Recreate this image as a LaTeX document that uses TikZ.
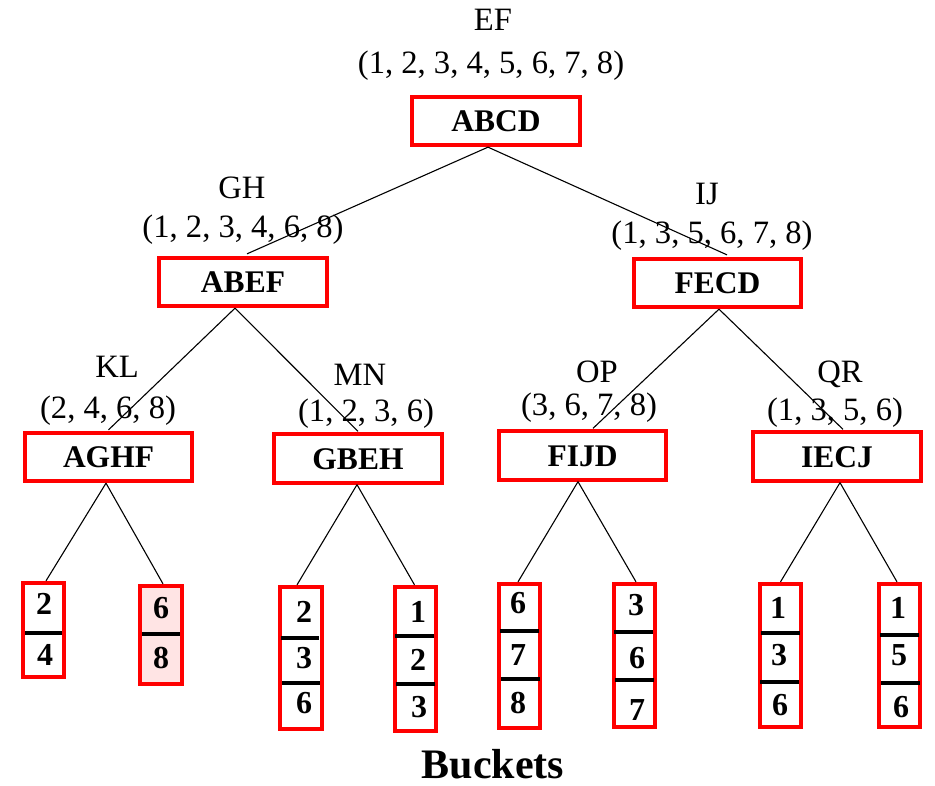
\documentclass[tikz,border=0pt]{standalone}
\usepackage{fontspec}
\setmainfont{Liberation Serif}
\definecolor{bucketpink}{RGB}{255,228,228}
\begin{document}
\begin{tikzpicture}[x=1pt,y=-1pt,
  keybox/.style={draw=red, line width=3.8pt, minimum width=167.5pt, minimum height=48.5pt,
    inner sep=0pt, font=\fontsize{31.5}{36}\selectfont\bfseries, text height=21.4pt, text depth=0pt},
  lbl/.style={inner sep=0pt, font=\fontsize{32.6}{38}\selectfont, text height=21.6pt, text depth=0pt},
  bucket/.style={draw=red, line width=3.8pt, minimum width=41.5pt, inner sep=0pt},
  digit/.style={inner sep=0pt, font=\fontsize{32}{36}\selectfont\bfseries, text height=21.8pt, text depth=0pt},
  sep/.style={line width=3.5pt, black},
  edge/.style={line width=1.1pt, black}]
\useasboundingbox[fill=white] (0,0) rectangle (935,785);

% internal nodes
\node[keybox] (ABCD) at (496,121) {ABCD};
\node[keybox] (ABEF) at (243,282) {ABEF};
\node[keybox] (FECD) at (717.5,283) {FECD};
\node[keybox] (AGHF) at (108.5,457) {AGHF};
\node[keybox] (GBEH) at (358,458.5) {GBEH};
\node[keybox] (FIJD) at (582.5,455.5) {FIJD};
\node[keybox] (IECJ) at (837,456.5) {IECJ};

% buckets
\node[bucket, minimum height=94.5pt] (b1) at (43.5,630) {};
\node[bucket, minimum height=98.5pt, fill=bucketpink] (b2) at (161,635) {};
\node[bucket, minimum height=142.5pt] (b3) at (301,658) {};
\node[bucket, minimum height=144.5pt] (b4) at (415.5,659) {};
\node[bucket, minimum height=144.5pt] (b5) at (519.5,656) {};
\node[bucket, minimum height=143.5pt] (b6) at (634.5,655.5) {};
\node[bucket, minimum height=143.5pt] (b7) at (780.5,655.5) {};
\node[bucket, minimum height=143.5pt] (b8) at (899.5,655.5) {};

% bucket dividers
\draw[sep] (25,633) -- (62,633);
\draw[sep] (142,634) -- (180,634);
\draw[sep] (281,638) -- (319,638);  \draw[sep] (282,683) -- (320,683);
\draw[sep] (395,636) -- (434,636);  \draw[sep] (396,684) -- (435,684);
\draw[sep] (500,631) -- (539,631);  \draw[sep] (501,679) -- (540,679);
\draw[sep] (614,632) -- (653,632);  \draw[sep] (615,680) -- (654,680);
\draw[sep] (761,633) -- (800,633);  \draw[sep] (760,682) -- (799,682);
\draw[sep] (880,635) -- (919,635);  \draw[sep] (881,683) -- (920,683);

% bucket entries
\node[digit] (d11) at (44,604) {2};  \node[digit] (d12) at (45,655) {4};
\node[digit] (d21) at (161,608) {6}; \node[digit] (d22) at (161,658) {8};
\node[digit] (d31) at (304,612) {2}; \node[digit] (d32) at (304,658) {3}; \node[digit] (d33) at (304,703) {6};
\node[digit] (d41) at (418,612) {1}; \node[digit] (d42) at (418,660) {2}; \node[digit] (d43) at (419,707) {3};
\node[digit] (d51) at (518,603) {6}; \node[digit] (d52) at (518,655) {7}; \node[digit] (d53) at (518,703) {8};
\node[digit] (d61) at (636,605) {3}; \node[digit] (d62) at (637,658) {6}; \node[digit] (d63) at (637,710) {7};
\node[digit] (d71) at (778,608) {1}; \node[digit] (d72) at (779,655) {3}; \node[digit] (d73) at (780,705) {6};
\node[digit] (d81) at (898,608) {1}; \node[digit] (d82) at (899,655) {5}; \node[digit] (d83) at (901,707) {6};

% tree edges
\draw[edge] ([xshift=-8pt]ABCD.south) -- ([xshift=4pt,yshift=2pt]ABEF.north);
\draw[edge] ([xshift=-8pt]ABCD.south) -- ([xshift=9.5pt,yshift=2pt]FECD.north);
\draw[edge] ([xshift=-8pt]ABEF.south) -- ([yshift=1pt]AGHF.north);
\draw[edge] ([xshift=-8pt]ABEF.south) -- ([yshift=1pt]GBEH.north);
\draw[edge] ([xshift=1.5pt]FECD.south) -- ([xshift=10.5pt,yshift=1pt]FIJD.north);
\draw[edge] ([xshift=1.5pt]FECD.south) -- ([xshift=6pt,yshift=1pt]IECJ.north);
\draw[edge] ([xshift=-2.5pt]AGHF.south) -- ([xshift=2.5pt]b1.north);
\draw[edge] ([xshift=-2.5pt]AGHF.south) -- ([xshift=2pt]b2.north);
\draw[edge] ([xshift=-1pt]GBEH.south) -- ([xshift=-4pt]b3.north);
\draw[edge] ([xshift=-1pt]GBEH.south) -- ([xshift=-1pt]b4.north);
\draw[edge] ([xshift=-4.5pt]FIJD.south) -- ([xshift=-1.5pt]b5.north);
\draw[edge] ([xshift=-4.5pt]FIJD.south) -- ([xshift=1.5pt]b6.north);
\draw[edge] ([xshift=3pt]IECJ.south) -- (b7.north);
\draw[edge] ([xshift=3pt]IECJ.south) -- ([xshift=-2.5pt]b8.north);

% key labels
\node[lbl] (lEF) at (493,20) {EF};
\node[lbl] (tEF) at (491,63) {(1, 2, 3, 4, 5, 6, 7, 8)};
\node[lbl] (lGH) at (242,188) {GH};
\node[lbl] (tGH) at (243,227) {(1, 2, 3, 4, 6, 8)};
\node[lbl] (lIJ) at (707,194) {IJ};
\node[lbl] (tIJ) at (712,233) {(1, 3, 5, 6, 7, 8)};
\node[lbl] (lKL) at (117,367) {KL};
\node[lbl] (tKL) at (108,408) {(2, 4, 6, 8)};
\node[lbl] (lMN) at (360,375) {MN};
\node[lbl] (tMN) at (366,411) {(1, 2, 3, 6)};
\node[lbl] (lOP) at (597,372) {OP};
\node[lbl] (tOP) at (589,405) {(3, 6, 7, 8)};
\node[lbl] (lQR) at (840,372) {QR};
\node[lbl] (tQR) at (835,410) {(1, 3, 5, 6)};

% caption
\node[inner sep=0pt, font=\fontsize{42}{48}\selectfont\bfseries, text height=28.6pt, text depth=0pt]
  (cap) at (493,764.5) {Buckets};
\end{tikzpicture}
\end{document}
